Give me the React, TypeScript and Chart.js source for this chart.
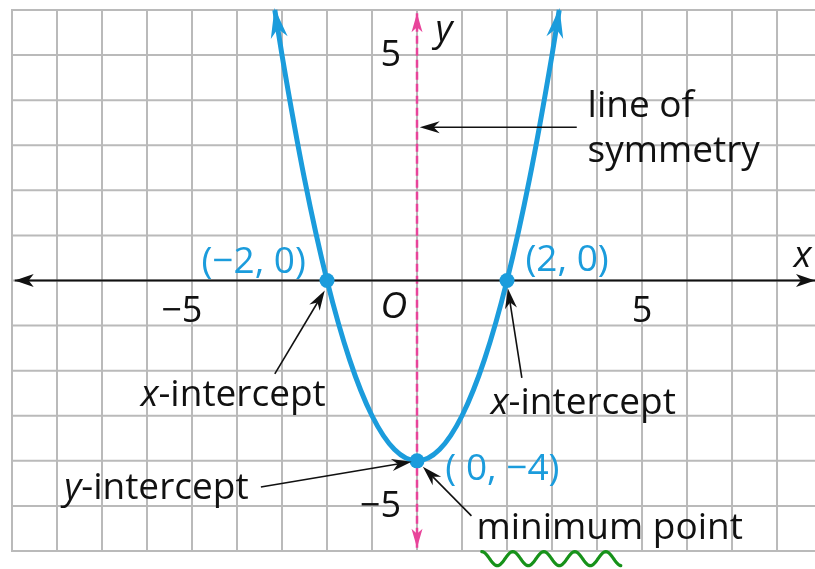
import React, { useEffect, useRef } from 'react';
import { Chart, registerables } from 'chart.js';

Chart.register(...registerables);

// Parabola y = x^2 - 4
const curveX = [-3.16, -3, -2.5, -2, -1.5, -1, -0.5, 0, 0.5, 1, 1.5, 2, 2.5, 3, 3.16];
const curveY = [6, 5, 2.25, 0, -1.75, -3, -3.75, -4, -3.75, -3, -1.75, 0, 2.25, 5, 6];

// Key points
const keyX = [-2, 2, 0];
const keyY = [0, 0, -4];
const keyLabels = ['(−2, 0)', '(2, 0)', '( 0, −4)'];
const keyLabelX = [-4.79, 2.41, 0.63];
const keyLabelY = [0.16, 0.22, -4.42];

// Axis tick labels
const xTickValues = [-5, 5];
const xTickLabels = ['−5', '5'];
const yTickValues = [5, -5];
const yTickLabels = ['5', '−5'];

// Grid range
const xGridMin = -9;
const xGridMax = 8;
const yGridMin = -6;
const yGridMax = 6;
const xViewMax = 8.844;

// Line of symmetry (x = 0) and x-axis
const symmetryX = [0, 0];
const symmetryY = [-5.93, 5.93];
const axisX = [-8.94, 8.844];
const axisY = [0, 0];

// Annotation arrows (tail -> tip)
const arrowTailX = [3.55, -3.16, 2.33, -3.47, 1.21];
const arrowTailY = [3.4, -2.07, -2.16, -4.58, -5.22];
const arrowTipX = [0.06, -2.05, 2.02, -0.12, 0.13];
const arrowTipY = [3.4, -0.22, -0.18, -4.02, -4.13];

// Annotation texts (italic prefix + regular rest), anchored left / baseline
const noteItalic = ['', '', 'x', 'x', 'y', ''];
const noteRest = ['line of', 'symmetry', '-intercept', '-intercept', '-intercept', 'minimum point'];
const noteX = [3.79, 3.79, -6.14, 1.64, -7.84, 1.32];
const noteY = [3.62, 2.62, -2.78, -2.96, -4.84, -5.73];

// Axis names
const axisNames = ['x', 'y', 'O'];
const axisNameX = [8.37, 0.41, -0.81];
const axisNameY = [0.29, 5.31, -0.84];

// Wavy underline under "minimum"
const squiggleX = [1.44, 4.53];
const squiggleY = -6.17;

const BLUE = '#1b9cdc';
const MAGENTA = '#e8449a';
const BLACK = '#111111';
const GRID = '#bababa';
const FONT = '"Open Sans", "DejaVu Sans", sans-serif';
const W = 815;
const H = 569;

function range(a: number, b: number) {
  const out: number[] = [];
  for (let v = a; v <= b; v++) out.push(v);
  return out;
}

function arrowHead(ctx: CanvasRenderingContext2D, x: number, y: number, angle: number, len: number, half: number, notch: number, color: string) {
  ctx.save();
  ctx.translate(x, y);
  ctx.rotate(angle);
  ctx.beginPath();
  ctx.moveTo(0, 0);
  ctx.lineTo(-len, -half);
  ctx.lineTo(-len + notch, 0);
  ctx.lineTo(-len, half);
  ctx.closePath();
  ctx.fillStyle = color;
  ctx.fill();
  ctx.restore();
}

const gridPlugin = {
  id: 'gridPlugin',
  beforeDatasetsDraw(chart: any) {
    const ctx: CanvasRenderingContext2D = chart.ctx;
    const xs = chart.scales.x;
    const ys = chart.scales.y;
    ctx.save();
    ctx.strokeStyle = GRID;
    ctx.lineWidth = 2;
    const top = ys.getPixelForValue(yGridMax);
    const bottom = ys.getPixelForValue(yGridMin);
    const left = xs.getPixelForValue(xGridMin);
    const right = xs.getPixelForValue(xViewMax) + 2;
    range(xGridMin, xGridMax).forEach((v) => {
      const p = xs.getPixelForValue(v);
      ctx.beginPath();
      ctx.moveTo(p, top - 1);
      ctx.lineTo(p, bottom + 1);
      ctx.stroke();
    });
    range(yGridMin, yGridMax).forEach((v) => {
      const p = ys.getPixelForValue(v);
      ctx.beginPath();
      ctx.moveTo(left - 1, p);
      ctx.lineTo(right, p);
      ctx.stroke();
    });
    ctx.restore();
  },
};

const overlay = {
  id: 'overlay',
  afterDatasetsDraw(chart: any) {
    const ctx: CanvasRenderingContext2D = chart.ctx;
    const xs = chart.scales.x;
    const ys = chart.scales.y;
    const px = (v: number) => xs.getPixelForValue(v);
    const py = (v: number) => ys.getPixelForValue(v);
    ctx.save();

    // Parabola arrowheads
    const n = curveX.length;
    const ends = [
      [curveX[1], curveY[1], curveX[0], curveY[0]],
      [curveX[n - 2], curveY[n - 2], curveX[n - 1], curveY[n - 1]],
    ];
    ends.forEach(([ax, ay, bx, by]) => {
      const x1 = px(ax), y1 = py(ay), x2 = px(bx), y2 = py(by);
      const ang = Math.atan2(y2 - y1, x2 - x1);
      arrowHead(ctx, x2 + Math.cos(ang) * 2, y2 + Math.sin(ang) * 2, ang, 30, 8.5, 9, BLUE);
    });

    // Symmetry line arrowheads
    arrowHead(ctx, px(symmetryX[1]), py(symmetryY[1]), -Math.PI / 2, 19, 5.5, 5, MAGENTA);
    arrowHead(ctx, px(symmetryX[0]), py(symmetryY[0]), Math.PI / 2, 19, 5.5, 5, MAGENTA);

    // x-axis arrowheads
    arrowHead(ctx, px(axisX[0]), py(axisY[0]), Math.PI, 19, 6.5, 5, BLACK);
    arrowHead(ctx, px(axisX[1]), py(axisY[1]), 0, 19, 6.5, 5, BLACK);

    // Annotation arrows
    ctx.strokeStyle = BLACK;
    ctx.lineWidth = 1.6;
    for (let i = 0; i < arrowTailX.length; i++) {
      const x1 = px(arrowTailX[i]), y1 = py(arrowTailY[i]);
      const x2 = px(arrowTipX[i]), y2 = py(arrowTipY[i]);
      const ang = Math.atan2(y2 - y1, x2 - x1);
      ctx.beginPath();
      ctx.moveTo(x1, y1);
      ctx.lineTo(x2 - Math.cos(ang) * 8, y2 - Math.sin(ang) * 8);
      ctx.stroke();
      arrowHead(ctx, x2, y2, ang, 20, 6, 6, BLACK);
    }

    // Key point labels
    ctx.font = `37px ${FONT}`;
    ctx.fillStyle = BLUE;
    ctx.textAlign = 'left';
    ctx.textBaseline = 'alphabetic';
    keyLabels.forEach((t, i) => ctx.fillText(t, px(keyLabelX[i]), py(keyLabelY[i])));

    // Annotation texts
    ctx.fillStyle = BLACK;
    noteRest.forEach((t, i) => {
      let x = px(noteX[i]);
      const y = py(noteY[i]);
      if (noteItalic[i]) {
        ctx.font = `italic 37px ${FONT}`;
        ctx.fillText(noteItalic[i], x, y);
        x += ctx.measureText(noteItalic[i]).width;
      }
      ctx.font = `37px ${FONT}`;
      ctx.fillText(t, x, y);
    });

    // Tick labels on axes
    ctx.font = `36px ${FONT}`;
    ctx.textBaseline = 'middle';
    ctx.textAlign = 'right';
    xTickValues.forEach((v, i) => {
      const t = xTickLabels[i];
      const dw = ctx.measureText(t.replace('−', '')).width;
      ctx.fillText(t, px(v) + dw / 2, py(0) + 31);
    });
    yTickValues.forEach((v, i) => {
      ctx.fillText(yTickLabels[i], px(0) - 16, py(v) + 1);
    });

    // Axis names
    ctx.textAlign = 'left';
    ctx.textBaseline = 'alphabetic';
    ctx.font = `italic 37px ${FONT}`;
    axisNames.forEach((t, i) => ctx.fillText(t, px(axisNameX[i]), py(axisNameY[i])));

    // Wavy underline
    const sx0 = px(squiggleX[0]), sx1 = px(squiggleX[1]), sy = py(squiggleY);
    ctx.strokeStyle = '#17921a';
    ctx.lineWidth = 3.2;
    ctx.lineJoin = 'round';
    ctx.lineCap = 'round';
    ctx.beginPath();
    for (let x = sx0; x <= sx1; x += 1) {
      const y = sy - 7 * Math.cos((2 * Math.PI * (x - sx0)) / 31);
      if (x === sx0) ctx.moveTo(x, y);
      else ctx.lineTo(x, y);
    }
    ctx.stroke();

    ctx.restore();
  },
};

export default function App() {
  const ref = useRef<HTMLCanvasElement | null>(null);
  useEffect(() => {
    document.body.style.margin = '0';
    if (!ref.current) return;
    const chart = new Chart(ref.current, {
      type: 'line',
      data: {
        datasets: [
          {
            label: 'points',
            data: keyX.map((x, i) => ({ x, y: keyY[i] })),
            showLine: false,
            pointRadius: 7.5,
            pointBackgroundColor: BLUE,
            pointBorderWidth: 0,
            order: 0,
          },
          {
            label: 'parabola',
            data: curveX.map((x, i) => ({ x, y: curveY[i] })),
            borderColor: BLUE,
            borderWidth: 5,
            pointRadius: 0,
            cubicInterpolationMode: 'monotone',
            fill: false,
            order: 1,
          },
          {
            label: 'x-axis',
            data: axisX.map((x, i) => ({ x, y: axisY[i] })),
            borderColor: BLACK,
            borderWidth: 2,
            pointRadius: 0,
            order: 2,
          },
          {
            label: 'symmetry',
            data: symmetryX.map((x, i) => ({ x, y: symmetryY[i] })),
            borderColor: MAGENTA,
            borderWidth: 2.5,
            borderDash: [8, 4],
            pointRadius: 0,
            order: 3,
          },
        ],
      },
      options: {
        animation: false,
        responsive: false,
        devicePixelRatio: 1,
        events: [],
        clip: false,
        layout: { autoPadding: false, padding: { left: 12, top: 10, right: 0, bottom: 18 } },
        plugins: { legend: { display: false }, tooltip: { enabled: false } },
        scales: {
          x: { type: 'linear', min: xGridMin, max: xViewMax, display: false },
          y: { type: 'linear', min: yGridMin, max: yGridMax, display: false },
        },
      },
      plugins: [gridPlugin, overlay],
    } as any);
    return () => chart.destroy();
  }, []);
  return (
    <div style={{ position: 'absolute', left: 0, top: 0, width: W, height: H, background: '#fff' }}>
      <canvas ref={ref} width={W} height={H} style={{ display: 'block', width: W, height: H }} />
    </div>
  );
}
